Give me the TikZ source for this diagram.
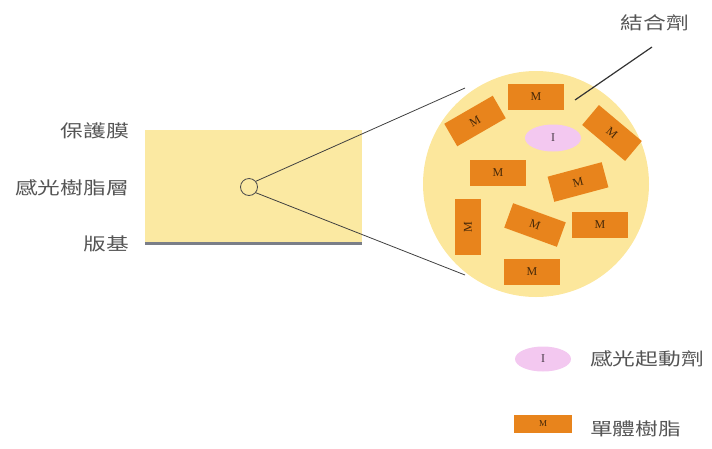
\documentclass[tikz,border=0pt]{standalone}
\usepackage{fontspec}
\setmainfont{Liberation Serif}
\newfontfamily\cjk[FakeStretch=1.3]{Noto Sans CJK TC}
\usetikzlibrary{shapes.geometric}
\definecolor{pale}{HTML}{FBE9A2}
\definecolor{disc}{HTML}{FCE79C}
\definecolor{orng}{HTML}{E8841C}
\definecolor{pnk}{HTML}{F3C8F0}
\definecolor{txt}{HTML}{555555}
\definecolor{base}{HTML}{7A7E88}
\tikzset{
  lbl/.style={text=txt, font=\cjk\fontsize{17.5}{17.5}\selectfont, inner sep=0pt},
  mbox/.style={fill=orng, minimum width=56pt, minimum height=26pt, inner sep=0pt, font=\fontsize{12}{12}\selectfont, text=black!70!orng},
  ibox/.style={ellipse, fill=pnk, minimum width=56pt, minimum height=27pt, inner sep=0pt, font=\fontsize{12}{12}\selectfont, text=black!70!pnk},
  zoomline/.style={draw=black!75, line width=0.8pt}
}
\begin{document}
\begin{tikzpicture}[x=1pt,y=-1pt]
\useasboundingbox (0,0) rectangle (712,448);
% plate
\node[fill=pale, minimum width=217pt, minimum height=113pt, inner sep=0pt] (layer) at (253.5,186.5) {};
\draw[base, line width=3pt] (layer.south west) -- (layer.south east);
\node[circle, draw=black!70, fill=pale, line width=0.8pt, minimum size=17pt, inner sep=0pt] (spot) at (249,187) {};
% labels
\node[lbl, anchor=east] (l1) at (129,131) {保護膜};
\node[lbl, anchor=east] (l2) at (129,188) {感光樹脂層};
\node[lbl, anchor=east] (l3) at (129,244) {版基};
% magnified disc
\node[circle, fill=disc, minimum size=226pt, inner sep=0pt] (big) at (536,184) {};
\coordinate (u) at (465,88);
\coordinate (d) at (465,275);
\draw[zoomline] (spot.40) -- (u);
\draw[zoomline] (spot.-40) -- (d);
% contents
\node[mbox] (m1) at (536,97) {M};
\node[mbox, rotate=30] (m2) at (475,121) {M};
\node[mbox, rotate=-40] (m3) at (612,133) {M};
\node[ibox] (i1) at (553,138) {I};
\node[mbox] (m4) at (498,173) {M};
\node[mbox, rotate=15] (m5) at (578,182) {M};
\node[mbox, rotate=90] (m6) at (468,227) {M};
\node[mbox, rotate=-20] (m7) at (535,225) {M};
\node[mbox] (m8) at (600,225) {M};
\node[mbox] (m9) at (532,272) {M};
% binder label
\node[lbl] (bind) at (655,23) {結合劑};
\coordinate (bt) at (652,47);
\coordinate (bp) at (575,100);
\draw[black!80, line width=1.2pt] (bt) -- (bp);
% legend
\node[ibox, minimum width=56pt, minimum height=25pt] (li) at (543,359) {I};
\node[lbl, anchor=west] (lit) at (590,359) {感光起動劑};
\node[mbox, minimum width=58pt, minimum height=18pt, font=\fontsize{9}{9}\selectfont] (lm) at (543,424) {M};
\node[lbl, anchor=west] (lmt) at (590,429) {單體樹脂};
\end{tikzpicture}
\end{document}
